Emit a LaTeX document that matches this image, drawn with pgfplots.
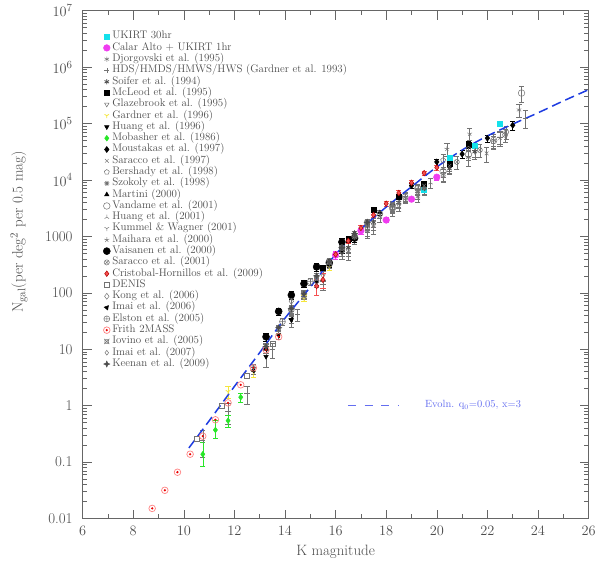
\documentclass[border=0pt]{standalone}
\usepackage{pgfplots}
\pgfplotsset{compat=1.18}
\usetikzlibrary{plotmarks}
\definecolor{axgray}{gray}{0.4}
\definecolor{txtgray}{gray}{0.3}
\definecolor{ptgray}{gray}{0.45}
\definecolor{dkgray}{gray}{0.3}
\definecolor{ukcyan}{RGB}{20,225,235}
\definecolor{camag}{RGB}{240,60,240}
\definecolor{mobgreen}{RGB}{40,230,40}
\definecolor{gyellow}{RGB}{245,230,60}
\definecolor{chred}{RGB}{245,80,80}
\definecolor{frring}{RGB}{255,130,130}
\definecolor{frdot}{RGB}{235,0,0}
\definecolor{modelblue}{RGB}{30,60,225}
\definecolor{legblue}{RGB}{100,110,240}

\pgfdeclareplotmark{frith}{%
  \pgfpathcircle{\pgfpointorigin}{\pgfplotmarksize}\pgfusepathqstroke
  \pgfpathcircle{\pgfpointorigin}{0.38\pgfplotmarksize}\pgfusepathqfill}
\pgfdeclareplotmark{star4}{%
  \pgfpathmoveto{\pgfqpoint{0pt}{\pgfplotmarksize}}%
  \pgfpathlineto{\pgfqpoint{0.3\pgfplotmarksize}{0.3\pgfplotmarksize}}%
  \pgfpathlineto{\pgfqpoint{\pgfplotmarksize}{0pt}}%
  \pgfpathlineto{\pgfqpoint{0.3\pgfplotmarksize}{-0.3\pgfplotmarksize}}%
  \pgfpathlineto{\pgfqpoint{0pt}{-\pgfplotmarksize}}%
  \pgfpathlineto{\pgfqpoint{-0.3\pgfplotmarksize}{-0.3\pgfplotmarksize}}%
  \pgfpathlineto{\pgfqpoint{-\pgfplotmarksize}{0pt}}%
  \pgfpathlineto{\pgfqpoint{-0.3\pgfplotmarksize}{0.3\pgfplotmarksize}}%
  \pgfpathclose\pgfusepathqfillstroke}
\pgfdeclareplotmark{sqx}{%
  \pgfpathrectanglecorners{\pgfqpoint{-0.7\pgfplotmarksize}{-0.7\pgfplotmarksize}}{\pgfqpoint{0.7\pgfplotmarksize}{0.7\pgfplotmarksize}}%
  \pgfpathmoveto{\pgfqpoint{-\pgfplotmarksize}{-\pgfplotmarksize}}\pgfpathlineto{\pgfqpoint{\pgfplotmarksize}{\pgfplotmarksize}}%
  \pgfpathmoveto{\pgfqpoint{-\pgfplotmarksize}{\pgfplotmarksize}}\pgfpathlineto{\pgfqpoint{\pgfplotmarksize}{-\pgfplotmarksize}}%
  \pgfusepathqstroke}

\pgfplotsset{
  ebr/.style={error bars/.cd, y dir=both, y explicit relative,
    error bar style={line width=0.5bp, #1},
    error mark options={rotate=90, mark size=2.6bp, line width=0.5bp, #1}},
  pt/.style={only marks, mark size=2.6bp, line width=0.5bp},
}

\begin{document}
\begin{tikzpicture}
\begin{axis}[
  scale only axis, width=506bp, height=507.8bp,
  xmin=6, xmax=26, ymode=log, ymin=0.01, ymax=1e7,
  axis line style={axgray, line width=0.6bp},
  tick style={axgray, line width=0.5bp},
  major tick length=9bp, minor tick length=4.7bp,
  xtick={6,8,...,26}, minor xtick={7,9,...,25},
  ytick={0.01,0.1,1,10,100,1000,1e4,1e5,1e6,1e7},
  yticklabels={0.01,0.1,1,10,100,1000,$10^4$,$10^5$,$10^6$,$10^7$},
  minor ytick={0.02,0.03,0.04,0.05,0.06,0.07,0.08,0.09,
    0.2,0.3,0.4,0.5,0.6,0.7,0.8,0.9,2,3,4,5,6,7,8,9,
    20,30,40,50,60,70,80,90,200,300,400,500,600,700,800,900,
    2000,3000,4000,5000,6000,7000,8000,9000,
    2e4,3e4,4e4,5e4,6e4,7e4,8e4,9e4,2e5,3e5,4e5,5e5,6e5,7e5,8e5,9e5,
    2e6,3e6,4e6,5e6,6e6,7e6,8e6,9e6},
  tick label style={font=\fontsize{15}{15}\selectfont, text=txtgray},
  yticklabel style={xshift=-6.5bp},
  xticklabel style={yshift=-4.7bp},
  xlabel={K magnitude},
  xlabel style={at={(axis description cs:0.5,0)}, anchor=center, yshift=-33bp,
    font=\fontsize{15}{15}\selectfont, text=txtgray},
  ylabel={N$_{\mathrm{gal}}$(per deg$^2$ per 0.5 mag)},
  ylabel style={at={(axis description cs:-0.1257,0.564)}, anchor=center,
    font=\fontsize{15}{15}\selectfont, text=txtgray},
  legend cell align=left,
  legend style={at={(axis description cs:0.0346,0.9644)}, anchor=north west,
    draw=none, fill=none, text=txtgray, row sep=0pt,
    font=\fontsize{11}{11}\selectfont,
    nodes={inner ysep=0pt, text height=8bp, text depth=3.29bp}},
]
% 1 UKIRT 30hr
\addplot[pt, mark=square*, ukcyan, mark size=2.5bp, ebr=ukcyan] coordinates {
 (19.5,6600) +- (0,0.1) (20.5,25100) +- (0,0.1) (21.5,40700) +- (0,0.12) (22.5,100000) +- (0,0.12)};
\addlegendentry{UKIRT 30hr}
% 2 Calar Alto
\addplot[pt, mark=*, camag, mark size=3.3bp, ebr=camag] coordinates {
 (16,468) +- (0,0.15) (17,1260) +- (0,0.12) (18,1950) +- (0,0.1) (19,4570) +- (0,0.1) (20,11200) +- (0,0.1)};
\addlegendentry{Calar Alto + UKIRT 1hr}
% 3 Djorgovski
\addplot[pt, mark=asterisk, ptgray, ebr=ptgray] coordinates {
 (17.25,1260) +- (0,0.25) (18.25,2820) +- (0,0.2) (19.25,5010) +- (0,0.2) (20.25,12600) +- (0,0.25)
 (21.25,25100) +- (0,0.3) (22.25,50100) +- (0,0.3) (23.25,174000) +- (0,0.25)};
\addlegendentry{Djorgovski et al. (1995)}
% 4 HDS
\addplot[pt, mark=+, ptgray, ebr=ptgray] coordinates {
 (10.75,0.24) +- (0,0.5) (11.75,0.79) +- (0,0.4) (12.5,1.66) +- (0,0.35) (13.5,10.0) +- (0,0.3)
 (14.5,41.7) +- (0,0.25) (15.5,141) +- (0,0.2) (16.5,447) +- (0,0.15) (17.5,1260) +- (0,0.15)
 (18.5,3310) +- (0,0.15) (19.5,7080) +- (0,0.15) (20.5,17800) +- (0,0.2) (21.5,33100) +- (0,0.25)
 (22.5,56200) +- (0,0.3) (23.5,126000) +- (0,0.35)};
\addlegendentry{HDS/HMDS/HMWS/HWS (Gardner et al. 1993)}
% 5 Soifer
\addplot[pt, mark=asterisk, dkgray, line width=0.8bp, ebr=ptgray] coordinates {
 (16.5,631) +- (0,0.2) (17.5,1780) +- (0,0.2) (18.5,3980) +- (0,0.2) (19.5,7080) +- (0,0.2)
 (20.5,15800) +- (0,0.2) (21.5,31600) +- (0,0.25)};
\addlegendentry{Soifer et al. (1994)}
% 6 McLeod
\addplot[pt, mark=square*, black, mark size=2.5bp, ebr=black] coordinates {
 (15.5,282) +- (0,0.1) (16.5,891) +- (0,0.1) (17.5,2950) +- (0,0.1) (18.5,5010) +- (0,0.1)
 (19.5,8510) +- (0,0.1) (20.5,19100) +- (0,0.12) (21.25,42700) +- (0,0.15)};
\addlegendentry{McLeod et al. (1995)}
% 7 Glazebrook
\addplot[pt, mark=triangle, mark options={rotate=180}, ptgray, ebr=ptgray] coordinates {
 (15.5,200) +- (0,0.2) (16.5,562) +- (0,0.2) (17.5,1580) +- (0,0.2) (18.5,3550) +- (0,0.2)};
\addlegendentry{Glazebrook et al. (1995)}
% 8 Gardner 1996
\addplot[pt, mark=Mercedes star flipped, gyellow, line width=0.8bp, ebr=gyellow] coordinates {
 (11.75,1.77) +- (0,0.25) (12.75,3.98) +- (0,0.2) (13.75,17.8) +- (0,0.15) (14.75,79.4) +- (0,0.12)
 (15.75,282) +- (0,0.1) (16.75,891) +- (0,0.1)};
\addlegendentry{Gardner et al. (1996)}
% 9 Huang 1996
\addplot[pt, mark=triangle*, mark options={rotate=180}, black, ebr=ptgray] coordinates {
 (13.25,7.41) +- (0,0.35) (14.25,33.1) +- (0,0.25) (15.25,158) +- (0,0.2) (16.25,525) +- (0,0.15)
 (17.25,1580) +- (0,0.15) (18.25,3550) +- (0,0.15)};
\addlegendentry{Huang et al. (1996)}
% 10 Mobasher
\addplot[pt, mark=diamond*, mobgreen, mark size=2.8bp,
  error bars/.cd, y dir=both, y explicit,
  error bar style={line width=0.5bp, mobgreen},
  error mark options={rotate=90, mark size=2.6bp, line width=0.5bp, mobgreen}] coordinates {
 (10.75,0.138) += (0,0.09) -= (0,0.055) (11.25,0.371) += (0,0.19) -= (0,0.11)
 (11.75,0.541) += (0,0.14) -= (0,0.12) (12.25,1.41) += (0,0.25) -= (0,0.24)};
\addlegendentry{Mobasher et al. (1986)}
% 11 Moustakas
\addplot[pt, mark=diamond*, black, mark size=3bp, ebr=black] coordinates {
 (19,7940) +- (0,0.1) (20,20900) +- (0,0.12) (21,28800) +- (0,0.15) (22,55000) +- (0,0.15) (23,93300) +- (0,0.2)};
\addlegendentry{Moustakas et al. (1997)}
% 12 Saracco 1997
\addplot[pt, mark=x, ptgray, ebr=ptgray] coordinates {
 (17.5,1580) +- (0,0.2) (18.5,3980) +- (0,0.2) (19.5,7940) +- (0,0.2) (20.5,17800) +- (0,0.25) (21.97,29500) +- (0,0.3)};
\addlegendentry{Saracco et al. (1997)}
% 13 Bershady
\addplot[pt, mark=pentagon, ptgray, ebr=ptgray] coordinates {
 (20.25,22400) +- (0,0.25) (21.25,35500) +- (0,0.25) (22.23,47900) +- (0,0.25) (22.75,70800) +- (0,0.25)};
\addlegendentry{Bershady et al. (1998)}
% 14 Szokoly
\addplot[pt, mark=10-pointed star, ptgray, ebr=ptgray] coordinates {
 (16.25,562) +- (0,0.2) (17.25,1580) +- (0,0.2) (18.25,3550) +- (0,0.2) (19.25,6610) +- (0,0.2)};
\addlegendentry{Szokoly et al. (1998)}
% 15 Martini
\addplot[pt, mark=triangle*, black, ebr=black] coordinates {
 (15.75,316) +- (0,0.1) (16.25,562) +- (0,0.1) (16.75,1120) +- (0,0.1) (17.25,1740) +- (0,0.1) (17.75,2630) +- (0,0.1)};
\addlegendentry{Martini (2000)}
% 16 Vandame
\addplot[pt, mark=o, ptgray, mark size=3.3bp, ebr=ptgray] coordinates {
 (18.25,3160) +- (0,0.2) (19.25,7080) +- (0,0.2) (20.25,14100) +- (0,0.2) (21.25,28200) +- (0,0.2)
 (22.25,50100) +- (0,0.2) (23.35,347000) +- (0,0.3)};
\addlegendentry{Vandame et al. (2001)}
% 17 Huang 2001
\addplot[pt, mark=Mercedes star, ptgray, ebr=ptgray] coordinates {
 (16.75,891) +- (0,0.2) (17.75,2240) +- (0,0.2) (18.75,5010) +- (0,0.2) (19.75,8910) +- (0,0.2)};
\addlegendentry{Huang et al. (2001)}
% 18 Kummel
\addplot[pt, mark=Mercedes star flipped, ptgray, ebr=ptgray] coordinates {
 (16.25,501) +- (0,0.2) (17.25,1260) +- (0,0.2) (18.25,2820) +- (0,0.2) (19.25,5620) +- (0,0.2) (20.25,11200) +- (0,0.2)};
\addlegendentry{Kummel \& Wagner (2001)}
% 19 Maihara
\addplot[pt, mark=star, ptgray, ebr=ptgray] coordinates {
 (19.5,7080) +- (0,0.25) (20.4,35500) +- (0,0.25) (21.3,66100) +- (0,0.25) (22.5,56200) +- (0,0.25)};
\addlegendentry{Maihara et al. (2000)}
% 20 Vaisanen
\addplot[pt, mark=*, black, mark size=3.5bp, ebr=black] coordinates {
 (13.25,16.6) +- (0,0.15) (13.75,46.8) +- (0,0.15) (14.25,91.2) +- (0,0.15) (14.75,145) +- (0,0.15)
 (15.25,288) +- (0,0.15) (15.75,339) +- (0,0.15) (16.25,794) +- (0,0.15) (16.75,933) +- (0,0.15)};
\addlegendentry{Vaisanen et al. (2000)}
% 21 Saracco 2001
\addplot[pt, mark=otimes, ptgray, ebr=ptgray] coordinates {
 (20.79,20900) +- (0,0.25) (21.7,33900) +- (0,0.25) (22.7,63100) +- (0,0.25)};
\addlegendentry{Saracco et al. (2001)}
% 22 Cristobal-Hornillos
\addplot[pt, mark=diamond*, mark size=2.8bp, mark options={draw=red!70!black, fill=chred}, chred, ebr=chred] coordinates {
 (15.25,132) +- (0,0.3) (15.5,170) +- (0,0.3) (16,479) +- (0,0.1) (16.5,832) +- (0,0.1) (17,1410) +- (0,0.1)
 (17.5,2400) +- (0,0.1) (18,3800) +- (0,0.1) (18.5,5890) +- (0,0.1) (19,8910) +- (0,0.1)
 (19.5,13200) +- (0,0.1) (20,16600) +- (0,0.1)};
\addlegendentry{Cristobal-Hornillos et al. (2009)}
% 23 DENIS
\addplot[pt, mark=square, ptgray] coordinates {
 (10.5,0.257) (11.5,0.99) (12.5,3.39) (13.5,12.6)};
\addlegendentry{DENIS}
% 24 Kong
\addplot[pt, mark=diamond, ptgray, mark size=3bp, ebr=ptgray] coordinates {
 (14.25,70.8) +- (0,0.15) (15.25,158) +- (0,0.15) (16.25,525) +- (0,0.15) (17.25,1410) +- (0,0.15)
 (18.25,3160) +- (0,0.15) (18.75,4470) +- (0,0.15)};
\addlegendentry{Kong et al. (2006)}
% 25 Imai 2006
\addplot[pt, mark=triangle*, mark options={rotate=200}, black, ebr=ptgray] coordinates {
 (12.75,4.17) +- (0,0.15) (13.25,10.0) +- (0,0.15) (13.75,17.8) +- (0,0.15) (14.25,33.9) +- (0,0.15)};
\addlegendentry{Imai et al. (2006)}
% 26 Elston
\addplot[pt, mark=oplus, ptgray, mark size=3bp, ebr=ptgray] coordinates {
 (13.9,30.9) +- (0,0.15) (14.25,50.1) +- (0,0.15) (15,158) +- (0,0.15) (15.75,316) +- (0,0.15)
 (16.25,631) +- (0,0.15) (16.75,1000) +- (0,0.15) (17.25,1780) +- (0,0.15) (17.75,2510) +- (0,0.15)
 (18.25,3550) +- (0,0.15) (18.75,5010) +- (0,0.15) (19.25,7080) +- (0,0.15)};
\addlegendentry{Elston et al. (2005)}
% 27 Frith 2MASS
\addplot[pt, mark=frith, mark size=3.3bp, mark options={draw=frring, fill=frdot, line width=0.7bp}] coordinates {
 (8.75,0.0151) (9.25,0.0316) (9.75,0.0661) (10.25,0.138) (10.75,0.288) (11.25,0.562)
 (11.75,1.12) (12.25,2.34) (12.75,4.68) (13.25,9.77) (13.75,16.6)};
\addlegendentry{Frith 2MASS}
% 28 Iovino
\addplot[pt, mark=sqx, ptgray, ebr=ptgray] coordinates {
 (14.75,89.1) +- (0,0.15) (15.25,178) +- (0,0.15) (15.75,355) +- (0,0.15) (16.25,631) +- (0,0.15)
 (16.75,1000) +- (0,0.15) (17.25,1580) +- (0,0.15)};
\addlegendentry{Iovino et al. (2005)}
% 29 Imai 2007
\addplot[pt, mark=diamond, ptgray, mark size=2.4bp, ebr=ptgray] coordinates {
 (12.75,4.79) +- (0,0.15) (13.25,11.2) +- (0,0.15) (13.75,22.4) +- (0,0.15) (14.25,47.9) +- (0,0.15) (14.75,95.5) +- (0,0.15)};
\addlegendentry{Imai et al. (2007)}
% 30 Keenan
\addplot[pt, mark=star4, dkgray, mark size=3bp, ebr=ptgray] coordinates {
 (13.25,11.2) +- (0,0.1) (13.75,24.0) +- (0,0.1) (14.25,52.5) +- (0,0.1) (14.75,95.5) +- (0,0.1)
 (15.25,200) +- (0,0.1) (15.75,355) +- (0,0.1) (16.25,631) +- (0,0.1) (16.75,1120) +- (0,0.1) (17.25,1780) +- (0,0.1)};
\addlegendentry{Keenan et al. (2009)}
% model
\addplot[forget plot, modelblue, line width=1.5bp, dash pattern=on 9.5bp off 5bp, smooth] coordinates {
 (10.2,0.178) (11,0.537) (12,2.19) (13,8.71) (14,35.5) (15,126) (16,479) (17,1349) (18,3311)
 (19,7586) (20,16982) (21,33884) (22,60256) (23,97724) (24,154882) (25,251189) (26,398107)};
\addplot[forget plot, legblue, line width=0.8bp, dash pattern=on 8.3bp off 8.3bp] coordinates {
 (16.49,1.03) (18.47,1.03)};
\node[anchor=west, text=legblue, font=\fontsize{10.5}{10.5}\selectfont, inner sep=0pt] at (axis cs:19.53,1.03) {Evoln. q$_0$=0.05, x=3};
\end{axis}
\pgfresetboundingbox
\path[use as bounding box] (-82.6bp,-59.5bp) rectangle (517.4bp,518.5bp);
\end{tikzpicture}
\end{document}
